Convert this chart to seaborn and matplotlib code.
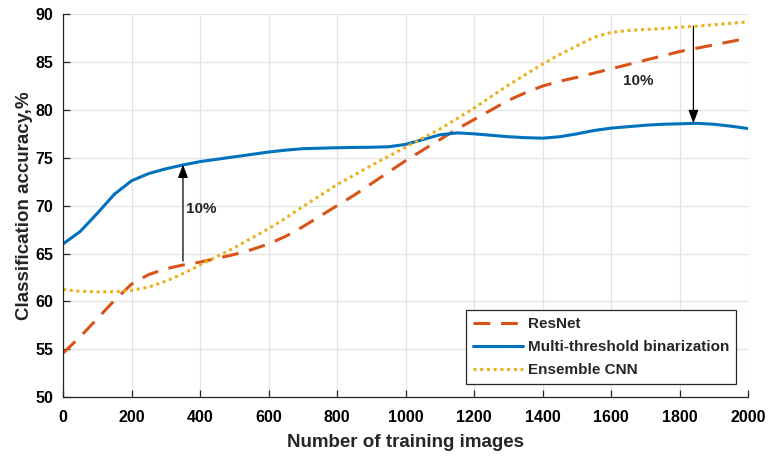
import numpy as np
import pandas as pd
import seaborn as sns
import matplotlib.pyplot as plt

# training set sizes and accuracy (%)
n_images = list(range(0, 2001, 50))
resnet = [54.6, 56.3, 58.2, 60.1, 61.8, 62.8, 63.4, 63.8, 64.1, 64.5, 64.9,
          65.4, 66.0, 66.8, 67.8, 68.9, 70.0, 71.1, 72.3, 73.5, 74.7,
          75.8, 76.9, 78.0, 79.0, 80.0, 81.0, 81.8, 82.5, 83.0, 83.4,
          83.85, 84.3, 84.75, 85.2, 85.65, 86.1, 86.45, 86.8, 87.15, 87.5]
multi_thr = [66.0, 67.3, 69.2, 71.2, 72.6, 73.35, 73.85, 74.25, 74.6, 74.85, 75.1,
             75.35, 75.6, 75.8, 75.95, 76.0, 76.05, 76.08, 76.1, 76.15, 76.4,
             76.9, 77.4, 77.6, 77.5, 77.35, 77.2, 77.1, 77.05, 77.2, 77.5,
             77.85, 78.1, 78.25, 78.4, 78.5, 78.55, 78.6, 78.5, 78.3, 78.05]
ensemble = [61.25, 61.05, 61.0, 61.0, 61.15, 61.5, 62.1, 62.9, 63.8, 64.7, 65.6,
            66.6, 67.6, 68.7, 69.9, 71.05, 72.2, 73.2, 74.2, 75.15, 76.1,
            77.05, 78.0, 79.1, 80.2, 81.4, 82.6, 83.7, 84.8, 85.8, 86.7,
            87.6, 88.1, 88.3, 88.4, 88.5, 88.65, 88.75, 88.9, 89.05, 89.2]

series = {'ResNet': resnet,
          'Multi-threshold binarization': multi_thr,
          'Ensemble CNN': ensemble}
colors = {'ResNet': '#D95319',
          'Multi-threshold binarization': '#0072BD',
          'Ensemble CNN': '#EDB120'}
dashes = {'ResNet': (5.5, 3.5),
          'Multi-threshold binarization': '',
          'Ensemble CNN': (1, 1.2)}

df = pd.concat([pd.DataFrame({'n': n_images, 'acc': v, 'method': k})
                for k, v in series.items()])

sns.set_style('whitegrid')
plt.rcParams['font.family'] = ['Liberation Sans', 'DejaVu Sans']
plt.rcParams['font.weight'] = 'bold'

fig = plt.figure(figsize=(7.69, 4.58), dpi=100)
ax = fig.add_axes([0.082, 0.133, 0.891, 0.836])

sns.lineplot(data=df, x='n', y='acc', hue='method', style='method',
             palette=colors, dashes=dashes, linewidth=2.2, ax=ax)

ax.set_xlim(0, 2000)
ax.set_ylim(50, 90)
ax.set_xticks(range(0, 2001, 200))
ax.set_yticks(range(50, 91, 5))
ax.grid(True, color='#e3e3e3', linewidth=0.9)
for s in ['top', 'right']:
    ax.spines[s].set_visible(False)
for s in ['left', 'bottom']:
    ax.spines[s].set_color('#262626')
    ax.spines[s].set_linewidth(0.9)
ax.tick_params(direction='in', length=5, width=0.9, color='#262626',
               labelsize=11.5, labelcolor='black', left=True, bottom=True)
ax.tick_params(axis='x', pad=9)
ax.tick_params(axis='y', pad=7)
for lab in ax.get_xticklabels() + ax.get_yticklabels():
    lab.set_fontweight('bold')

ax.set_xlabel('Number of training images', fontsize=13.5, fontweight='bold',
              labelpad=7)
ax.set_ylabel('Classification accuracy,%', fontsize=13.5, fontweight='bold',
              labelpad=2)

# gap annotations
ax.annotate('', xy=(350, 74.3), xytext=(350, 64.2),
            arrowprops=dict(arrowstyle='-|>,head_length=0.8,head_width=0.3',
                            color='black', lw=0.9, shrinkA=0, shrinkB=0))
ax.text(360, 69.6, '10%', fontsize=11, fontweight='bold', va='center')
ax.annotate('', xy=(1840, 78.6), xytext=(1840, 88.75),
            arrowprops=dict(arrowstyle='-|>,head_length=0.8,head_width=0.3',
                            color='black', lw=0.9, shrinkA=0, shrinkB=0))
ax.text(1680, 83.0, '10%', fontsize=11, fontweight='bold',
        va='center', ha='center')

leg = ax.legend(loc='lower right', bbox_to_anchor=(0.982, 0.034),
                borderaxespad=0, fontsize=11, handlelength=3.3,
                frameon=True, fancybox=False, borderpad=0.45,
                labelspacing=0.6, handletextpad=0.3)
leg.get_frame().set_edgecolor('#262626')
leg.get_frame().set_linewidth(0.9)
leg.get_frame().set_alpha(1)
for t in leg.get_texts():
    t.set_fontweight('bold')

plt.savefig('out.png', dpi=100)
